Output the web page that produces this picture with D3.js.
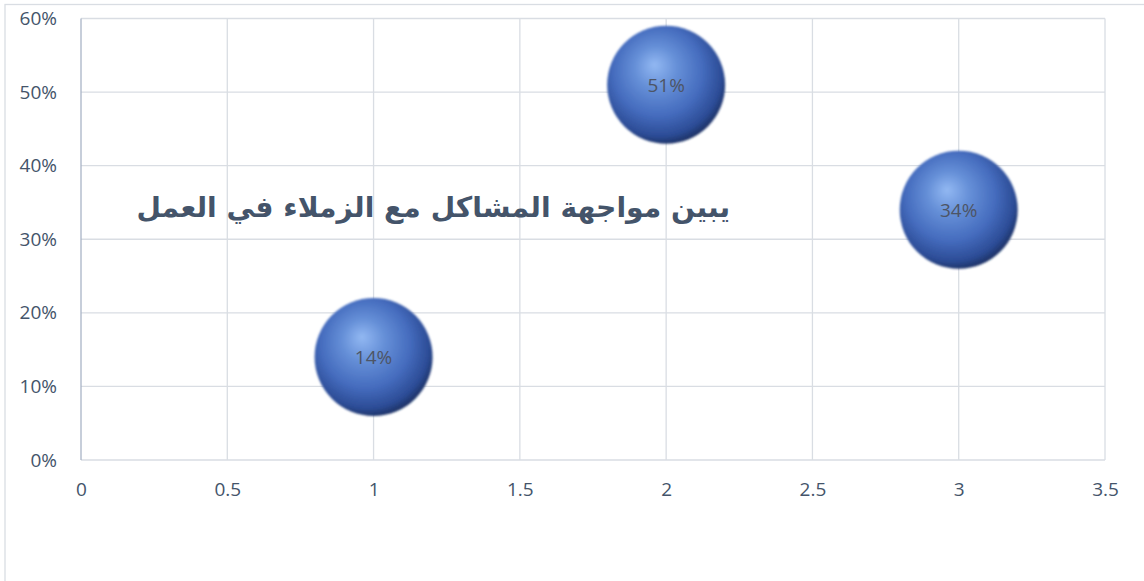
<!DOCTYPE html>
<html><head><meta charset="utf-8">
<script src="https://cdn.jsdelivr.net/npm/d3@7"></script>
<style>
html,body{margin:0;padding:0;background:#fff;}
svg{display:block;}
</style></head>
<body>
<svg id="chart" width="1144" height="581"></svg>
<script>
const xValues = [1, 2, 3];
const yValues = [0.14, 0.51, 0.34];
const sizes = [1, 1, 1];
const labels = ["14%", "51%", "34%"];
const xTicks = [0, 0.5, 1, 1.5, 2, 2.5, 3, 3.5];
const yTicks = [0, 0.1, 0.2, 0.3, 0.4, 0.5, 0.6];
const title = "يبين مواجهة المشاكل مع الزملاء في العمل";

const svg = d3.select("#chart");
const W = 1144, H = 581;
const x = d3.scaleLinear().domain([0, 3.5]).range([81, 1105]);
const y = d3.scaleLinear().domain([0, 0.6]).range([460, 18.5]);
const r = d3.scaleSqrt().domain([0, 1]).range([0, 59]);
const FONT = "'Open Sans', 'Noto Sans', sans-serif";

// chart border
svg.append("rect").attr("x", 5).attr("y", 4.5).attr("width", W + 10).attr("height", H + 10)
  .attr("fill", "#fff").attr("stroke", "#d9dde3").attr("stroke-width", 1.3);

const defs = svg.append("defs");
const g = defs.append("radialGradient").attr("id", "sphere")
  .attr("cx", "45%").attr("cy", "42%").attr("r", "63%").attr("fx", "40%").attr("fy", "33%");
g.append("stop").attr("offset", "0%").attr("stop-color", "#92b8f2");
g.append("stop").attr("offset", "28%").attr("stop-color", "#6690d8");
g.append("stop").attr("offset", "60%").attr("stop-color", "#456cbe");
g.append("stop").attr("offset", "84%").attr("stop-color", "#2c4c96");
g.append("stop").attr("offset", "100%").attr("stop-color", "#15244c");
const blur = defs.append("filter").attr("id", "soft").attr("x", "-10%").attr("y", "-10%").attr("width", "120%").attr("height", "120%");
blur.append("feGaussianBlur").attr("stdDeviation", 0.9);

// gridlines
svg.append("g").selectAll("line").data(yTicks).join("line")
  .attr("x1", x(0)).attr("x2", x(3.5)).attr("y1", d => y(d)).attr("y2", d => y(d))
  .attr("stroke", "#d9dde3").attr("stroke-width", 1.3);
svg.append("g").selectAll("line").data(xTicks.slice(1)).join("line")
  .attr("x1", d => x(d)).attr("x2", d => x(d)).attr("y1", y(0)).attr("y2", y(0.6))
  .attr("stroke", "#d9dde3").attr("stroke-width", 1.3);
// vertical axis line
svg.append("line").attr("x1", x(0)).attr("x2", x(0)).attr("y1", y(0)).attr("y2", y(0.6))
  .attr("stroke", "#a9b4c6").attr("stroke-width", 1.3);

// y axis labels
const yAxis = d3.axisLeft(y).tickValues(yTicks).tickFormat(d3.format(".0%")).tickSize(0).tickPadding(24);
const ya = svg.append("g").attr("transform", `translate(${x(0)},0)`).call(yAxis);
ya.select(".domain").remove();
ya.selectAll("text").attr("fill", "#44546a").style("font-family", FONT).style("font-size", "19px");

// x axis labels
const xAxis = d3.axisBottom(x).tickValues(xTicks).tickFormat(d => String(d)).tickSize(0).tickPadding(23);
const xa = svg.append("g").attr("transform", `translate(0,${y(0)})`).call(xAxis);
xa.select(".domain").remove();
xa.selectAll("text").attr("fill", "#44546a").style("font-family", FONT).style("font-size", "19px");

// title
svg.append("text").attr("x", 730).attr("y", 217).attr("text-anchor", "start")
  .attr("direction", "rtl")
  .attr("fill", "#44546a").style("font-family", "'DejaVu Sans', sans-serif").style("font-weight", "bold")
  .style("font-size", "28.2px").text(title);

// bubbles
const data = xValues.map((v, i) => ({x: v, y: yValues[i], s: sizes[i], label: labels[i]}));
const b = svg.append("g").selectAll("g").data(data).join("g")
  .attr("transform", d => `translate(${x(d.x)},${y(d.y)})`);
b.append("circle").attr("r", d => r(d.s)).attr("fill", "url(#sphere)").attr("filter", "url(#soft)");
b.append("text").attr("text-anchor", "middle").attr("dy", "0.36em")
  .attr("fill", "#4d5566").style("font-family", FONT).style("font-size", "19px")
  .text(d => d.label);
</script>
</body></html>
